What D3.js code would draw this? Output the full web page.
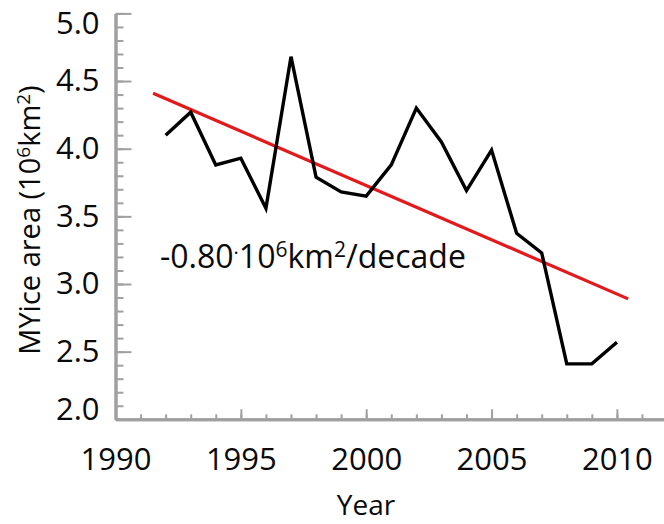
<!DOCTYPE html>
<html><head><meta charset="utf-8">
<script src="https://cdn.jsdelivr.net/npm/d3@7"></script>
<style>body{margin:0;background:#fff}svg{display:block}</style>
</head><body><svg id="c" width="664" height="524"></svg>
<script>
// ---- data ----
const years = [1992,1993,1994,1995,1996,1997,1998,1999,2000,2001,2002,2003,2004,2005,2006,2007,2008,2009,2010];
const myiArea = [4.10,4.27,3.88,3.93,3.56,4.68,3.79,3.68,3.65,3.88,4.30,4.05,3.69,3.99,3.375,3.23,2.41,2.41,2.57];
const trendYears = [1991.5, 2010.45];
const trendValues = [4.41, 2.89];
const xMajorTicks = [1990,1995,2000,2005,2010];
const xMinorTicks = d3.range(1990, 2012, 1);
const yMajorTicks = [2.0,2.5,3.0,3.5,4.0,4.5,5.0];
const yMinorTicks = d3.range(20, 51, 1).map(d => d/10);
const xTitle = "Year";
const yTitle = ["MYice area (10", "6", "km", "2", ")"];

const FONT = "'Open Sans', sans-serif";
const svg = d3.select("#c");
const axisColor = "#a0a0a0";
const textColor = "#0a0a0a";

const x = d3.scaleLinear().domain([1990, 2012]).range([115.5, 115.5 + 22*25.07]);
const y = d3.scaleLinear().domain([2, 5]).range([419.3, 13.4]);

// y axis minor
const gyMinor = svg.append("g").attr("transform", `translate(${x(1990)},0)`)
  .call(d3.axisLeft(y).tickValues(yMinorTicks).tickSizeInner(-8).tickSizeOuter(0).tickFormat(""));
// y axis major
const gy = svg.append("g").attr("transform", `translate(${x(1990)},0)`)
  .call(d3.axisLeft(y).tickValues(yMajorTicks).tickSizeInner(-16).tickSizeOuter(0).tickPadding(16).tickFormat(d3.format(".1f")));
// x axis minor
const gxMinor = svg.append("g").attr("transform", `translate(0,${y(2)})`)
  .call(d3.axisBottom(x).tickValues(xMinorTicks).tickSizeInner(-5).tickSizeOuter(0).tickFormat(""));
const gx = svg.append("g").attr("transform", `translate(0,${y(2)})`)
  .call(d3.axisBottom(x).tickValues(xMajorTicks).tickSizeInner(-10).tickSizeOuter(0).tickPadding(29).tickFormat(d3.format("d")));

[gyMinor, gy, gxMinor, gx].forEach(g => {
  g.selectAll("path.domain").attr("stroke", axisColor).attr("stroke-width", 3);
  g.selectAll(".tick line").attr("stroke", axisColor).attr("stroke-width", 2);
  g.selectAll(".tick text").attr("fill", textColor).style("font-family", FONT).style("font-size", "31px");
});
// label nudges at the ends of the y axis (as in the original)
gy.selectAll(".tick text").attr("dy", d => d === 5 ? "0.65em" : d === 2 ? "0.0em" : "0.32em");

// trend line
const line = d3.line().x(d => x(d[0])).y(d => y(d[1]));
svg.append("path").datum(d3.zip(trendYears, trendValues))
  .attr("d", line).attr("fill", "none").attr("stroke", "#e3191c").attr("stroke-width", 3.2);

// data line
svg.append("path").datum(d3.zip(years, myiArea))
  .attr("d", line).attr("fill", "none").attr("stroke", "#000").attr("stroke-width", 3.4)
  .attr("stroke-linejoin", "miter");

// trend annotation
const t = svg.append("text").attr("x", 160).attr("y", 268)
  .style("font-family", FONT).style("font-size", "32px").attr("fill", textColor);
t.append("tspan").text("-0.80");
t.append("tspan").text("·").attr("dy", -8).style("font-size", "20px");
t.append("tspan").text("10").attr("dy", 8);
t.append("tspan").text("6").attr("dy", -11).style("font-size", "21px");
t.append("tspan").text("km").attr("dy", 11);
t.append("tspan").text("2").attr("dy", -11).style("font-size", "21px");
t.append("tspan").text("/decade").attr("dy", 11);

// axis titles
svg.append("text").attr("x", 366).attr("y", 515).attr("text-anchor", "middle")
  .style("font-family", FONT).style("font-size", "28px").attr("fill", textColor).text(xTitle);
const yt = svg.append("text").attr("transform", "translate(40,220) rotate(-90)").attr("text-anchor", "middle")
  .style("font-family", FONT).style("font-size", "29px").attr("fill", textColor);
yt.append("tspan").text(yTitle[0]);
yt.append("tspan").text(yTitle[1]).attr("dy", -10).style("font-size", "19px");
yt.append("tspan").text(yTitle[2]).attr("dy", 10);
yt.append("tspan").text(yTitle[3]).attr("dy", -10).style("font-size", "19px");
yt.append("tspan").text(yTitle[4]).attr("dy", 10);
</script></body></html>
